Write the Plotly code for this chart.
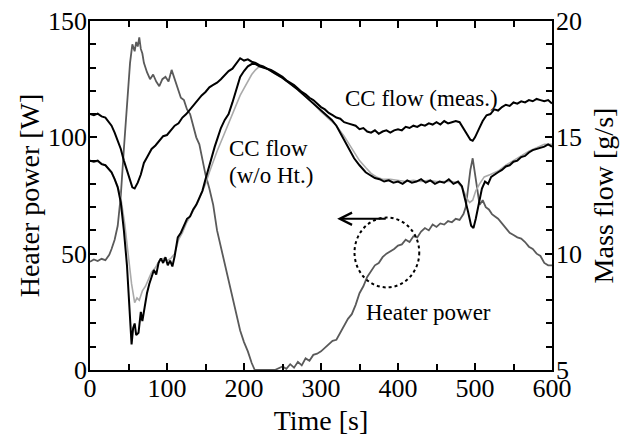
import plotly.graph_objects as go

# Heater power [W] (left axis)
heater_t = [0, 5, 10, 15, 20, 25, 28, 32, 36, 40, 44, 48, 52, 55, 58, 60, 62, 64, 66, 68,
            70, 74, 78, 82, 86, 90, 94, 98, 102, 106, 110, 114, 118, 122, 126, 130, 134, 138,
            142, 146, 150, 155, 160, 165, 170, 175, 180, 185, 190, 195, 200, 205, 210, 214,
            220, 230, 240, 250, 255, 260, 265, 270, 275, 280, 285, 290, 295, 300, 305, 310,
            315, 320, 325, 330, 335, 340, 345, 350, 355, 360, 365, 370, 375, 380, 385, 390,
            395, 400, 405, 410, 415, 420, 425, 430, 435, 440, 445, 450, 455, 460, 465, 470,
            475, 480, 485, 488, 491, 494, 497, 500, 503, 506, 510, 514, 518, 522, 526, 530,
            535, 540, 545, 550, 555, 560, 565, 570, 575, 580, 585, 590, 595, 600]
heater_w = [46.5, 47.5, 46.8, 47.8, 47.2, 49.5, 52, 56, 62, 75, 95, 115, 132, 140, 137, 141, 139, 143, 138, 136,
            132, 128, 125, 127, 124, 122, 125, 126, 124, 129, 125, 120, 117, 116, 112, 110, 105, 100,
            97, 90, 84, 78, 71, 60, 53, 45, 39, 31, 24, 17, 12, 8, 3, 0,
            0, 0, 0, 1.5, 0.5, 2.5, 1, 3.5, 2, 5, 4, 6.5, 7, 8, 9.5, 11,
            12.5, 13, 16, 19, 22, 24, 28, 33, 36, 40, 42.5, 45, 46, 48.5, 50, 51,
            52, 53.5, 54, 56, 55, 57.5, 57, 59.5, 61, 60, 62.5, 61.5, 63, 62.5, 64, 63.5,
            65, 64.5, 67, 70, 78, 86, 91, 84, 76, 71, 73, 70, 69, 67, 66, 65,
            63, 61, 59, 58, 57, 56.5, 55, 53, 52, 50, 49, 46, 45, 45]

# CC flow (meas.) [g/s] (right axis)
meas_t = [0, 5, 10, 15, 20, 25, 28, 32, 36, 40, 44, 48, 52, 55, 58, 62, 66, 70, 75, 80,
          85, 90, 95, 100, 105, 110, 115, 120, 125, 130, 135, 140, 145, 150, 155, 160, 165,
          170, 175, 180, 185, 190, 195, 200, 205, 210, 215, 220, 225, 230, 235, 240, 245,
          250, 255, 260, 265, 270, 275, 280, 285, 290, 295, 300, 305, 310, 315, 320, 325,
          330, 335, 340, 345, 350, 355, 360, 365, 370, 375, 380, 385, 390, 395, 400, 405,
          410, 415, 420, 425, 430, 435, 440, 445, 450, 455, 460, 465, 470, 475, 480, 485,
          490, 494, 497, 500, 505, 510, 515, 520, 525, 530, 535, 540, 545, 550, 555, 560,
          565, 570, 575, 580, 585, 590, 595, 600]
meas_f = [16.0, 15.95, 16.02, 15.9, 15.85, 15.65, 15.5, 15.2, 14.85, 14.5, 14.0, 13.6, 13.1, 12.85, 12.8, 13.05, 13.4, 13.9, 14.2, 14.5,
          14.65, 14.85, 15.05, 15.1, 15.3, 15.5, 15.6, 15.85, 16.0, 16.2, 16.45, 16.6, 16.8, 16.95, 17.15, 17.25, 17.35,
          17.5, 17.7, 17.85, 17.95, 18.15, 18.4, 18.3, 18.35, 18.25, 18.2, 18.1, 18.05, 17.95, 17.9, 17.8, 17.7,
          17.6, 17.45, 17.35, 17.25, 17.1, 16.95, 16.85, 16.7, 16.6, 16.45, 16.3, 16.2, 16.05, 15.95, 15.85, 15.8,
          15.65, 15.6, 15.55, 15.5, 15.35, 15.4, 15.25, 15.2, 15.3, 15.15, 15.25, 15.3, 15.2, 15.3, 15.35, 15.3,
          15.45, 15.4, 15.5, 15.45, 15.55, 15.5, 15.6, 15.55, 15.65, 15.55, 15.7, 15.6, 15.65, 15.7, 15.65, 15.4,
          15.1, 14.9, 14.85, 15.0, 15.35, 15.7, 15.95, 16.0, 16.2, 16.15, 16.3, 16.4, 16.35, 16.5, 16.45, 16.55,
          16.5, 16.6, 16.55, 16.65, 16.6, 16.55, 16.6, 16.45]

# CC flow (w/o Ht.) [g/s] (right axis)
woht_t = [0, 5, 10, 15, 20, 25, 28, 32, 36, 40, 44, 48, 51, 54, 56, 58, 60, 63, 66, 68,
          71, 74, 77, 80, 83, 86, 89, 92, 95, 98, 101, 104, 107, 110, 114, 118, 122, 126,
          130, 134, 138, 142, 146, 150, 154, 158, 162, 166, 170, 175, 180, 185, 190, 195,
          200, 205, 210, 215, 220, 225, 230, 240, 250, 260, 270, 280, 290, 300, 307, 314,
          320, 325, 330, 337, 343, 350, 358, 365, 370, 376, 382, 388, 394, 400, 406, 412,
          418, 424, 430, 436, 442, 448, 454, 460, 466, 472, 478, 483, 487, 491, 495, 498,
          501, 505, 509, 513, 517, 521, 525, 530, 535, 540, 545, 550, 555, 560, 565, 570,
          575, 580, 585, 590, 595, 600]
woht_f = [14.0, 13.95, 14.0, 13.85, 13.8, 13.6, 13.5, 13.2, 12.85, 12.2, 11.0, 9.5, 7.8, 6.1, 6.8, 7.0, 6.5, 6.6, 7.5, 7.1,
          7.7, 8.3, 8.7, 9.0, 9.3, 9.1, 9.6, 9.8, 9.6, 9.85, 9.5, 9.7, 9.45, 9.9, 10.7, 10.9, 11.2, 11.5,
          11.6, 11.9, 12.1, 12.4, 12.7, 13.2, 13.7, 14.2, 14.6, 15.0, 15.4, 15.75, 16.0, 16.5, 17.0, 17.6,
          17.85, 18.05, 18.15, 18.15, 18.05, 18.0, 17.95, 17.75, 17.55, 17.3, 17.05, 16.75, 16.45, 16.15, 15.95, 15.75,
          15.5, 15.2, 14.9, 14.5, 14.1, 13.8, 13.5, 13.35, 13.25, 13.2, 13.1, 13.15, 13.05, 13.1, 13.0, 13.15,
          13.05, 13.1, 13.2, 13.05, 13.15, 13.0, 13.1, 13.05, 13.2, 13.0, 13.1, 12.9, 12.4, 11.8, 11.2, 11.1,
          11.5, 12.2, 12.8, 13.1, 13.0, 13.3, 13.4, 13.5, 13.6, 13.75, 13.8, 13.95, 14.0, 14.15, 14.2, 14.35,
          14.45, 14.5, 14.55, 14.6, 14.7, 14.6]

# simulated flow, light grey (right axis)
sim_t = [0, 10, 20, 28, 36, 40, 45, 50, 54, 58, 61, 64, 68, 72, 76, 80, 85, 90, 95, 100,
         105, 110, 115, 120, 125, 130, 135, 140, 145, 150, 155, 160, 165, 170, 175, 180, 185,
         190, 195, 200, 205, 210, 215, 220, 230, 240, 250, 260, 270, 280, 290, 300, 310, 320,
         330, 337, 343, 350, 358, 365, 372, 380, 390, 400, 410, 420, 430, 440, 450, 460, 470,
         478, 484, 489, 493, 497, 501, 506, 512, 520, 530, 540, 550, 560, 570, 580, 590, 600]
sim_f = [14.0, 13.95, 13.8, 13.5, 12.9, 12.4, 11.3, 9.8, 8.7, 7.9, 8.1, 8.0, 8.4, 8.6, 8.9, 9.2, 9.4, 9.7, 9.8, 9.7,
         9.8, 10.0, 10.6, 10.9, 11.3, 11.6, 11.9, 12.2, 12.6, 13.0, 13.5, 14.0, 14.4, 14.8, 15.2, 15.6, 16.0,
         16.4, 16.8, 17.1, 17.4, 17.7, 17.9, 18.05, 17.95, 17.75, 17.55, 17.3, 17.05, 16.75, 16.45, 16.1, 15.8, 15.5,
         15.05, 14.7, 14.35, 14.0, 13.7, 13.45, 13.3, 13.2, 13.2, 13.15, 13.1, 13.15, 13.1, 13.15, 13.1, 13.1, 13.1,
         13.05, 12.8, 12.4, 12.2, 12.3, 12.7, 13.0, 13.3, 13.4, 13.55, 13.8, 14.0, 14.2, 14.4, 14.55, 14.7, 14.7]

FONT = "Liberation Serif, Times New Roman, serif"

fig = go.Figure()
fig.add_trace(go.Scatter(x=sim_t, y=sim_f, yaxis="y2", mode="lines",
                         line=dict(color="#aaaaaa", width=1.6)))
fig.add_trace(go.Scatter(x=heater_t, y=heater_w, mode="lines",
                         line=dict(color="#5a5a5a", width=1.8)))
fig.add_trace(go.Scatter(x=woht_t, y=woht_f, yaxis="y2", mode="lines",
                         line=dict(color="black", width=2)))
fig.add_trace(go.Scatter(x=meas_t, y=meas_f, yaxis="y2", mode="lines",
                         line=dict(color="black", width=2)))

# dotted circle + arrow pointing to the left axis
fig.add_shape(type="circle", xref="x", yref="y", x0=343.5, x1=427.6, y0=35.5, y1=65.5,
              line=dict(color="black", width=2, dash="dot"))
fig.add_annotation(x=321, y=65, ax=386, ay=65, xref="x", yref="y", axref="x", ayref="y",
                   text="", showarrow=True, arrowhead=5, arrowsize=1.2, arrowwidth=2,
                   arrowcolor="black")

notes = [
    (328, 16.65, "CC flow (meas.)"),
    (177.5, 14.52, "CC flow"),
    (177.5, 13.38, "(w/o Ht.)"),
    (356, 7.49, "Heater power"),
]
for x, y, txt in notes:
    fig.add_annotation(x=x, y=y, xref="x", yref="y2", text=txt, showarrow=False,
                       xanchor="left", align="left",
                       font=dict(family=FONT, size=23, color="black"))

axis_common = dict(showline=True, linecolor="black", linewidth=1.5, ticks="inside",
                   ticklen=7, tickwidth=1.5, tickcolor="black", showgrid=False,
                   zeroline=False, automargin=False, ticklabeloverflow="allow",
                   tickfont=dict(family=FONT, size=26, color="black"))

# the page body adds an 8 px offset, so the figure is sized to the rest of the window
fig.update_layout(
    width=623, height=433,
    margin=dict(l=82, r=79, t=13, b=71),
    paper_bgcolor="white", plot_bgcolor="white",
    showlegend=False,
    font=dict(family=FONT, color="black"),
    xaxis=dict(range=[0, 600], dtick=100, mirror="ticks", ticklabelstandoff=-6,
               minor=dict(dtick=50, ticks="inside", ticklen=6, tickcolor="black"),
               title=dict(text="Time [s]", font=dict(family=FONT, size=28), standoff=8),
               **axis_common),
    yaxis=dict(range=[0, 150], dtick=50, ticklabelstandoff=-4,
               minor=dict(dtick=10, ticks="inside", ticklen=6, tickcolor="black"),
               title=dict(text="Heater power [W]", font=dict(family=FONT, size=28), standoff=0),
               **axis_common),
    yaxis2=dict(range=[5, 20], dtick=5, overlaying="y", side="right", ticklabelstandoff=-3,
                minor=dict(dtick=1, ticks="inside", ticklen=6, tickcolor="black"),
                title=dict(text="Mass flow [g/s]", font=dict(family=FONT, size=28), standoff=12),
                **axis_common),
)

fig.write_html("out.html")
